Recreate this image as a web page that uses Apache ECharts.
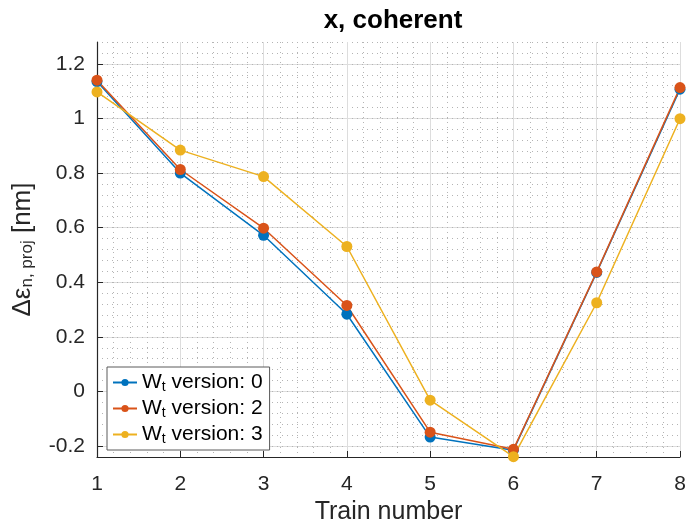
<!DOCTYPE html>
<html><head><meta charset="utf-8">
<script src="https://cdn.jsdelivr.net/npm/echarts@6/dist/echarts.min.js"></script>
<style>html,body{margin:0;padding:0;background:#fff}#c{width:686px;height:523px}</style>
</head><body><div id="c"></div>
<script>
var trains = [1, 2, 3, 4, 5, 6, 7, 8];
var v0 = [1.135, 0.800, 0.572, 0.283, -0.167, -0.215, 0.436, 1.107];
var v2 = [1.140, 0.813, 0.598, 0.315, -0.149, -0.212, 0.438, 1.113];
var v3 = [1.097, 0.884, 0.787, 0.531, -0.032, -0.239, 0.325, 0.999];
var seriesNames = ['W_t version: 0', 'W_t version: 2', 'W_t version: 3'];
var yTicks = [-0.2, 0, 0.2, 0.4, 0.6, 0.8, 1, 1.2];
var colors = ['#0072BD', '#D95319', '#EDB120'];

var font = 'Liberation Sans, Arial, Helvetica, sans-serif';
function pairs(v){ return trains.map(function(t,i){ return [t, v[i]]; }); }
function mk(name, v, c){
  return {name:name, type:'line', data:pairs(v), xAxisIndex:0, yAxisIndex:0,
    symbol:'circle', symbolSize:11, clip:false,
    lineStyle:{color:c, width:1.5}, itemStyle:{color:c}};
}
var chart = echarts.init(document.getElementById('c'));
chart.setOption({
  animation:false,
  title:{text:'x, coherent', left:388, textAlign:'center', top:3,
    textStyle:{fontFamily:font, fontSize:26, fontWeight:'bold', color:'#000'}},
  grid:{left:97, right:6, top:42, bottom:66, outerBoundsMode:'none', containLabel:false},
  xAxis:[{type:'value', min:1, max:8, interval:1,
    axisLine:{show:true, onZero:false, lineStyle:{color:'#262626', width:1.2}},
    axisTick:{show:true, inside:true, length:6, lineStyle:{color:'#262626'}},
    axisLabel:{fontFamily:font, fontSize:21, color:'#262626', margin:17},
    splitLine:{show:true, lineStyle:{color:'#dddddd', width:1}},
    minorTick:{show:false, splitNumber:5},
    minorSplitLine:{show:true, lineStyle:{color:'#b4b4b4', width:1, type:[1,4]}},
    name:'Train number', nameLocation:'middle', nameGap:39,
    nameTextStyle:{fontFamily:font, fontSize:25, color:'#262626'}
  }],
  yAxis:[{type:'value', min:-0.24, max:1.28,
    axisLine:{show:true, onZero:false, lineStyle:{color:'#262626', width:1.2}},
    axisTick:{show:true, inside:true, length:6, customValues:yTicks, lineStyle:{color:'#262626'}},
    axisLabel:{fontFamily:font, fontSize:21, color:'#262626', margin:12, customValues:yTicks,
      formatter:function(v){ return String(Math.round(v*10)/10); }},
    splitLine:{show:true, lineStyle:{color:'#dddddd', width:1}},
    name:'{a|\u0394\u03b5}{s|n, proj}{a| [nm]}', nameLocation:'middle', nameGap:61, nameRotate:90,
    nameTextStyle:{rich:{a:{fontFamily:font, fontSize:26, color:'#262626'},
      s:{fontFamily:font, fontSize:17, color:'#262626', verticalAlign:'bottom', padding:[10,0,0,0]}}}
  },{type:'value', min:-0.24, max:1.28, interval:0.04, position:'left',
    axisLine:{show:false, onZero:false}, axisTick:{show:false}, axisLabel:{show:false},
    splitLine:{show:true, lineStyle:{color:'#b4b4b4', width:1, type:[1,4]}}
  }],
  legend:{orient:'vertical', left:107, top:367, data:seriesNames,
    itemWidth:24, itemHeight:9, itemGap:4,
    padding:[5,7,4,5], borderColor:'#5a5a5a', borderWidth:1, backgroundColor:'#fff',
    formatter:function(n){ var p=n.split('_t'); return '{a|W}{s|t}{a|'+p[1]+'}'; },
    textStyle:{rich:{a:{fontFamily:font, fontSize:21, color:'#000'},
      s:{fontFamily:font, fontSize:14, color:'#000', verticalAlign:'bottom', padding:[9,0,0,0]}}}
  },
  series:[mk(seriesNames[0], v0, colors[0]), mk(seriesNames[1], v2, colors[1]), mk(seriesNames[2], v3, colors[2])]
});
</script></body></html>
